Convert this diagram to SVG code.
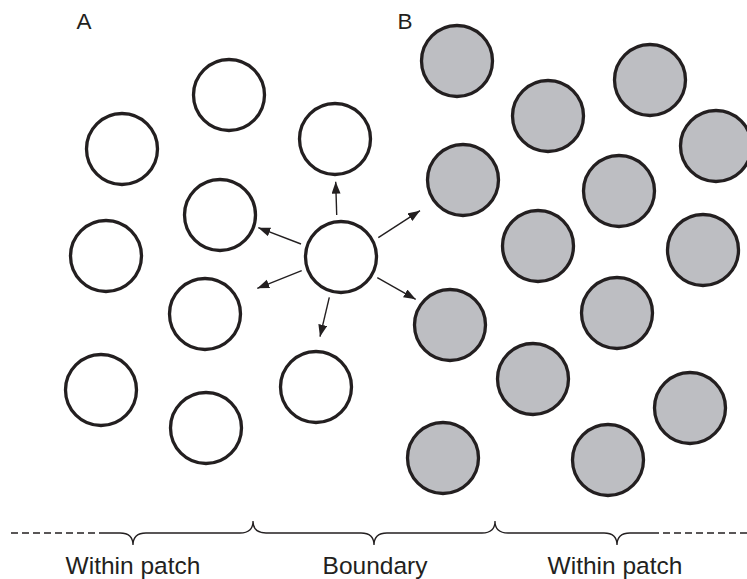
<svg xmlns="http://www.w3.org/2000/svg" width="747" height="579" viewBox="0 0 747 579">
  <style>
    .cell { stroke: #231f20; stroke-width: 3.3; }
    .open { fill: #ffffff; }
    .filled { fill: #bdbec2; }
    .arrow { stroke: #231f20; stroke-width: 1.4; fill: none; }
    .brace { stroke: #231f20; stroke-width: 1.3; fill: none; }
    .dash { stroke: #231f20; stroke-width: 1.3; fill: none; stroke-dasharray: 7 4; }
    .label { font-family: "Liberation Sans", Arial, sans-serif; fill: #231f20; }
  </style>
  <defs>
    <marker id="head" markerUnits="userSpaceOnUse" markerWidth="14" markerHeight="10" refX="12" refY="4.5" orient="auto">
      <path d="M0,0 L12,4.5 L0,9 Z" fill="#231f20"/>
    </marker>
  </defs>

  <rect width="747" height="579" fill="#ffffff"/>

  <!-- panel labels -->
  <text class="label" x="84" y="29" font-size="22.5" text-anchor="middle">A</text>
  <text class="label" x="405" y="29" font-size="22.5" text-anchor="middle">B</text>

  <!-- white cells -->
  <g id="a1"><circle class="cell open" cx="229" cy="95" r="35.5"/></g>
  <g id="a2"><circle class="cell open" cx="122" cy="149" r="35.5"/></g>
  <g id="a3"><circle class="cell open" cx="335" cy="139" r="35.5"/></g>
  <g id="a4"><circle class="cell open" cx="220" cy="215" r="35.5"/></g>
  <g id="a5"><circle class="cell open" cx="106" cy="256" r="35.5"/></g>
  <g id="a6"><circle class="cell open" cx="341" cy="257" r="35.5"/></g>
  <g id="a7"><circle class="cell open" cx="205" cy="314" r="35.5"/></g>
  <g id="a8"><circle class="cell open" cx="101" cy="390" r="35.5"/></g>
  <g id="a9"><circle class="cell open" cx="316" cy="387" r="35.5"/></g>
  <g id="a10"><circle class="cell open" cx="206" cy="428" r="35.5"/></g>

  <!-- grey cells -->
  <g id="b1"><circle class="cell filled" cx="457" cy="61" r="35.5"/></g>
  <g id="b2"><circle class="cell filled" cx="650" cy="80" r="35.5"/></g>
  <g id="b3"><circle class="cell filled" cx="548" cy="116" r="35.5"/></g>
  <g id="b4"><circle class="cell filled" cx="716" cy="146" r="35.5"/></g>
  <g id="b5"><circle class="cell filled" cx="463" cy="180" r="35.5"/></g>
  <g id="b6"><circle class="cell filled" cx="619" cy="191" r="35.5"/></g>
  <g id="b7"><circle class="cell filled" cx="538" cy="246" r="35.5"/></g>
  <g id="b8"><circle class="cell filled" cx="703" cy="250" r="35.5"/></g>
  <g id="b9"><circle class="cell filled" cx="450" cy="325" r="35.5"/></g>
  <g id="b10"><circle class="cell filled" cx="617" cy="313" r="35.5"/></g>
  <g id="b11"><circle class="cell filled" cx="533" cy="379" r="35.5"/></g>
  <g id="b12"><circle class="cell filled" cx="690" cy="408" r="35.5"/></g>
  <g id="b13"><circle class="cell filled" cx="443" cy="458" r="35.5"/></g>
  <g id="b14"><circle class="cell filled" cx="608" cy="460" r="35.5"/></g>

  <!-- arrows radiating from the central cell -->
  <g id="connectors">
    <line class="arrow" x1="336.7" y1="215" x2="335.7" y2="181.7" marker-end="url(#head)"/>
    <line class="arrow" x1="301" y1="244" x2="258.3" y2="227.7" marker-end="url(#head)"/>
    <line class="arrow" x1="301.7" y1="270.7" x2="257.3" y2="288.3" marker-end="url(#head)"/>
    <line class="arrow" x1="329.3" y1="297.3" x2="320" y2="336.7" marker-end="url(#head)"/>
    <line class="arrow" x1="378.3" y1="237.7" x2="420" y2="210.7" marker-end="url(#head)"/>
    <line class="arrow" x1="377.3" y1="277.7" x2="415.7" y2="299.3" marker-end="url(#head)"/>
  </g>

  <!-- region braces -->
  <path class="dash" d="M11,533 H100"/>
  <path class="dash" d="M652,533 H747"/>
  <path class="brace" d="M100,533 H120 C128,533 133,537 133,545 C133,537 138,533 146,533 H240 C248,533 253,529 253,521 C253,529 258,533 266,533 H361 C369,533 374,537 374,545 C374,537 379,533 387,533 H482 C490,533 495,529 495,521 C495,529 500,533 508,533 H604 C612,533 617,537 617,545 C617,537 622,533 630,533 H652"/>

  <text class="label" x="133" y="574" font-size="24.5" text-anchor="middle">Within patch</text>
  <text class="label" x="375" y="574" font-size="24.5" text-anchor="middle">Boundary</text>
  <text class="label" x="615" y="574" font-size="24.5" text-anchor="middle">Within patch</text>
</svg>
